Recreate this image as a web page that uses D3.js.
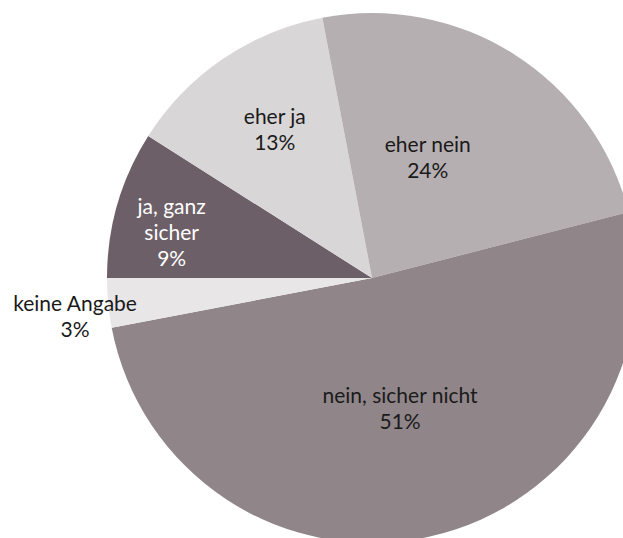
<!DOCTYPE html>
<html>
<head>
<meta charset="utf-8">
<script src="https://cdn.jsdelivr.net/npm/d3@7"></script>
<style>
  body { margin: 0; background: #fff; }
  svg { display: block; }
</style>
</head>
<body>
<div id="chart"></div>
<script>
// answers, in order clockwise from 9 o'clock
const categories = ["ja, ganz sicher", "eher ja", "eher nein", "nein, sicher nicht", "keine Angabe"];
const labelLines = [["ja, ganz", "sicher"], ["eher ja"], ["eher nein"], ["nein, sicher nicht"], ["keine Angabe"]];
const values = [9, 13, 24, 51, 3];
const percentLabels = ["9%", "13%", "24%", "51%", "3%"];

const colors = ["#6d5f67", "#d9d6d7", "#b5afb2", "#908689", "#e8e6e7"];
const textColors = ["#fff", "#1a1a1a", "#1a1a1a", "#1a1a1a", "#1a1a1a"];
// label placement: radius as fraction of pie radius, angle shift in degrees
const labelRadius = [0.775, 0.67, 0.5, 0.505, 1.13];
const labelShift = [-3.5, 1, -7.5, 0.5, -2];

const width = 623, height = 538;
const cx = 372, cy = 278, radius = 265;
const fontSize = 21, lineH = 26;

const svg = d3.select("#chart")
  .append("svg")
    .attr("width", width)
    .attr("height", height);

const g = svg.append("g")
    .attr("transform", `translate(${cx},${cy})`);

const data = categories.map((c, i) => ({name: c, value: values[i], i: i}));

const pie = d3.pie()
  .value(d => d.value)
  .sort(null)
  .startAngle(-Math.PI / 2)
  .endAngle(1.5 * Math.PI);

const arc = d3.arc().innerRadius(0).outerRadius(radius);
const arcs = pie(data);

g.selectAll("path.slice")
  .data(arcs)
  .join("path")
    .attr("class", "slice")
    .attr("fill", d => colors[d.data.i])
    .attr("d", arc);

// labels
const lab = g.selectAll("g.label")
  .data(arcs)
  .join("g")
    .attr("class", "label")
    .attr("transform", d => {
      const i = d.data.i;
      const a = (d.startAngle + d.endAngle) / 2 + labelShift[i] * Math.PI / 180;
      const r = radius * labelRadius[i];
      return `translate(${r * Math.sin(a)},${-r * Math.cos(a)})`;
    });

lab.each(function(d) {
  const i = d.data.i;
  const lines = labelLines[i].concat([percentLabels[i]]);
  const t = d3.select(this).append("text")
    .attr("text-anchor", "middle")
    .attr("font-family", "Lato, sans-serif")
    .attr("font-size", fontSize)
    .attr("fill", textColors[i]);
  lines.forEach((l, k) => {
    t.append("tspan")
      .attr("x", 0)
      .attr("y", (k - (lines.length - 1) / 2) * lineH)
      .attr("dy", "0.35em")
      .text(l);
  });
});
</script>
</body>
</html>
